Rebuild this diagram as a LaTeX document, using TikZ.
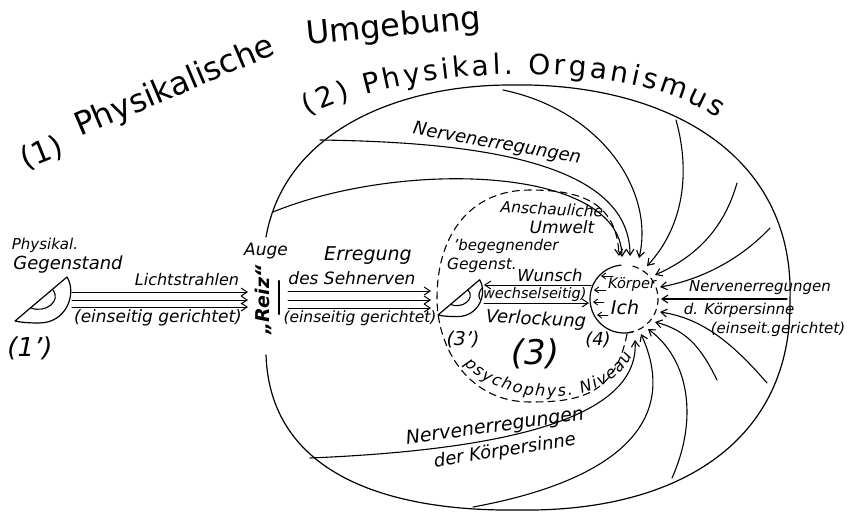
\documentclass[tikz,border=0pt]{standalone}
\usepackage{fontspec}
\setmainfont{DejaVu Sans}
\usetikzlibrary{arrows.meta,calc,decorations.text}

\newcommand\setfs[1]{\fontsize{#1}{#1}\selectfont}
% half bowl (object), lower-left tip at #3
\newcommand \mydrawbowl[3][1]
{
\begin{scope}[shift={#3}, scale=#1]
\coordinate (#2-a) at (0,0);     % lower tip
\coordinate (#2-b) at (52,-44);  % upper tip
\draw[line width=1.2pt] (#2-a) -- (#2-b) .. controls (62,-28) and (52,2) .. (24,2) .. controls (12,2) and (4,1) .. (#2-a);
\draw[line width=1.1pt] ($(#2-a)!0.3!(#2-b)$) .. controls +(14,6) and +(10,12) .. ($(#2-a)!0.72!(#2-b)$);
\end{scope}
}

\tikzset{
  >={Straight Barb[length=6pt,width=8pt]},
  nerve/.style={->, line width=1.1pt},
  ray/.style={->, line width=1pt},
  hand/.style={font=\itshape\setfs{#1}, inner sep=0pt},
  hand/.default=17,
  title/.style={font=\setfs{#1}, inner sep=0pt},
}

\begin{document}
\begin{tikzpicture}[x=1pt, y=-1pt, line cap=round, line join=round]
\useasboundingbox (0,0) rectangle (851,515);

% titles
\node[title=30, rotate=22] (t1num) at (42,153) {(1)};
\node[title=32, rotate=23, anchor=base west] (t1a) at (80,137) {Physikalische};
\node[title=32, rotate=5.5, anchor=base west] (t1b) at (307,45) {Umgebung};
\path[decorate, decoration={text along path, text align={fit to path},
  text={|\setfs{28}|(2) Physikal. Organismus}}] (308,116) .. controls (400,68) and (620,52) .. (718,118);

% (2) organism
\coordinate (eyetop) at (266,237);
\coordinate (eyebot) at (266,355);
\draw[line width=1.2pt] (eyetop) .. controls (285,130) and (400,85) .. (510,85)
  .. controls (660,82) and (795,150) .. (790,300)
  .. controls (792,440) and (680,512) .. (520,510)
  .. controls (380,512) and (270,470) .. (eyebot);

% (1') object and light
\mydrawbowl{obj}{(15,321)}
\node[hand=15] (phys) at (45,245) {Physikal.};
\node[hand=18] (gegen) at (68,265) {Gegenstand};
\node[hand=26] (obj1) at (30,348) {(1')};
\coordinate (lichtL) at (72,300);
\coordinate (lichtR) at (248,300);
\foreach \d in {-8,0,7}
  \draw[ray] ($(lichtL)+(0,\d)$) -- ($(lichtR)+(0,\d)$);
\node[hand=16] (licht) at (187,280) {Lichtstrahlen};
\node[hand=17] (einseit1) at (158,318) {(einseitig gerichtet)};

% eye
\coordinate (retinaT) at (279,281);
\coordinate (retinaB) at (279,314);
\draw[line width=2.4pt] (retinaT) -- (retinaB);
\node[hand=17] (auge) at (266,251) {Auge};
\node[rotate=90, inner sep=0pt, font=\bfseries\itshape\setfs{19}] (reiz) at (263,300) {„Reiz“};
\coordinate (nervL) at (288,300);
\coordinate (nervR) at (431,300);
\foreach \d in {-9,0,8}
  \draw[ray] ($(nervL)+(0,\d)$) -- ($(nervR)+(0,\d)$);
\node[hand=19] (erreg) at (368,256) {Erregung};
\node[hand=17] (sehn) at (352,278) {des Sehnerven};
\node[hand=15.5] (einseit2) at (360,318) {(einseitig gerichtet)};

% (3) psychophysical level
\coordinate (ich) at (624,299);
\coordinate (niv-s) at (627,334);
\coordinate (niv-e) at (619,256);
\draw[->, line width=1.1pt, dash pattern=on 7pt off 5pt] (niv-s) .. controls (615,395) and (580,402) .. (530,402)
  .. controls (470,402) and (437,350) .. (437,298) .. controls (437,235) and (470,190) .. (530,190)
  .. controls (585,190) and (617,205) .. (niv-e);
\path[decorate, decoration={text along path, text align={fit to path},
  text={|\itshape\setfs{16}|psychophys. Niveau}}] (464,364) .. controls (500,404) and (602,414) .. (632,356);
\node[hand=15.5, rotate=-3] (ansch) at (552,209) {Anschauliche};
\node[hand=17] (umwelt) at (562,227) {Umwelt};
\node[hand=15] (begeg) at (506,246) {’begegnender};
\node[hand=15.5] (gegst) at (482,265) {Gegenst.};
\mydrawbowl[0.8]{obj3}{(438,315)}
\node[hand=16.5] (wunsch) at (550,275) {Wunsch};
\node[hand=14.5] (wechsel) at (532,294) {(wechselseitig)};
\node[hand=18, rotate=-3] (verl) at (536,320) {Verlockung};
\node[hand=34] (drei) at (535,354) {(3)};
\node[hand=19] (dreistr) at (463,340) {(3')};
\node[hand=18] (vier) at (598,340) {(4)};
\coordinate (wunschR) at (591,285);
\coordinate (wunschL) at (484,285);
\coordinate (verlL) at (484,303);
\coordinate (verlR) at (589,303);
\draw[ray] (wunschR) -- (wunschL);
\draw[ray] (verlL) -- (verlR);

% (4) body ego
\draw[line width=1.2pt] (ich) ++(-95:34) arc[start angle=-95, end angle=-285, radius=34];
\draw[line width=1.1pt, dash pattern=on 6pt off 5pt] (ich) ++(-75:34) arc[start angle=-75, end angle=85, radius=34];
\node[hand=14.5] (koerper) at (632,285) {Körper};
\node[hand=19] (ichtxt) at (625,307) {Ich};
\foreach \dy/\xa/\xb in {-23/-11/-23, -9/-18/-30, 3/-20/-31, 16/-16/-27}
  \draw[->, line width=0.9pt, >={Straight Barb[length=4pt,width=6pt]}] ($(ich)+(\xa,\dy)$) -- ($(ich)+(\xb,\dy)$);

% nerve excitations
\coordinate (n1s) at (320,140); \coordinate (n1e) at (630,256);
\coordinate (n2s) at (273,212); \coordinate (n2e) at (622,257);
\coordinate (n3s) at (503,90);  \coordinate (n3e) at (639,258);
\coordinate (n4s) at (676,120); \coordinate (n4e) at (647,266);
\coordinate (n5s) at (737,183); \coordinate (n5e) at (655,275);
\coordinate (n6s) at (770,228); \coordinate (n6e) at (660,287);
\coordinate (n7s) at (787,299); \coordinate (n7e) at (661,299);
\coordinate (n8s) at (767,383); \coordinate (n8e) at (660,312);
\coordinate (n9s) at (717,380); \coordinate (n9e) at (655,322);
\coordinate (l3s) at (672,478); \coordinate (l3e) at (648,329);
\coordinate (l2s) at (473,507); \coordinate (l2e) at (641,334);
\coordinate (l1s) at (310,458); \coordinate (l1e) at (635,340);
\draw[nerve] (n1s) .. controls (470,142) and (630,160) .. (n1e);
\draw[nerve] (n2s) .. controls (400,160) and (620,165) .. (n2e);
\draw[nerve] (n3s) .. controls (600,110) and (655,190) .. (n3e);
\draw[nerve] (n4s) .. controls (690,170) and (685,225) .. (n4e);
\draw[nerve] (n5s) .. controls (725,225) and (700,255) .. (n5e);
\draw[nerve] (n6s) .. controls (740,260) and (700,280) .. (n6e);
\draw[nerve] (n7s) -- (n7e);
\draw[nerve] (n8s) .. controls (730,340) and (700,318) .. (n8e);
\draw[nerve] (n9s) .. controls (700,345) and (685,330) .. (n9e);
\draw[nerve] (l3s) .. controls (698,420) and (690,360) .. (l3e);
\draw[nerve] (l2s) .. controls (620,480) and (680,420) .. (l2e);
\draw[nerve] (l1s) .. controls (500,450) and (640,420) .. (l1e);
\node[hand=18, rotate=-10] (nerv1) at (497,144) {Nervenerregungen};
\node[hand=15] (nerv2) at (760,288) {Nervenerregungen};
\node[hand=15] (koerp2) at (739,310) {d. Körpersinne};
\node[hand=15] (einseit3) at (778,329) {(einseit.gerichtet)};
\node[hand=19, rotate=8] (nerv3) at (495,427) {Nervenerregungen};
\node[hand=18, rotate=9] (koerp3) at (505,451) {der Körpersinne};
\end{tikzpicture}
\end{document}
